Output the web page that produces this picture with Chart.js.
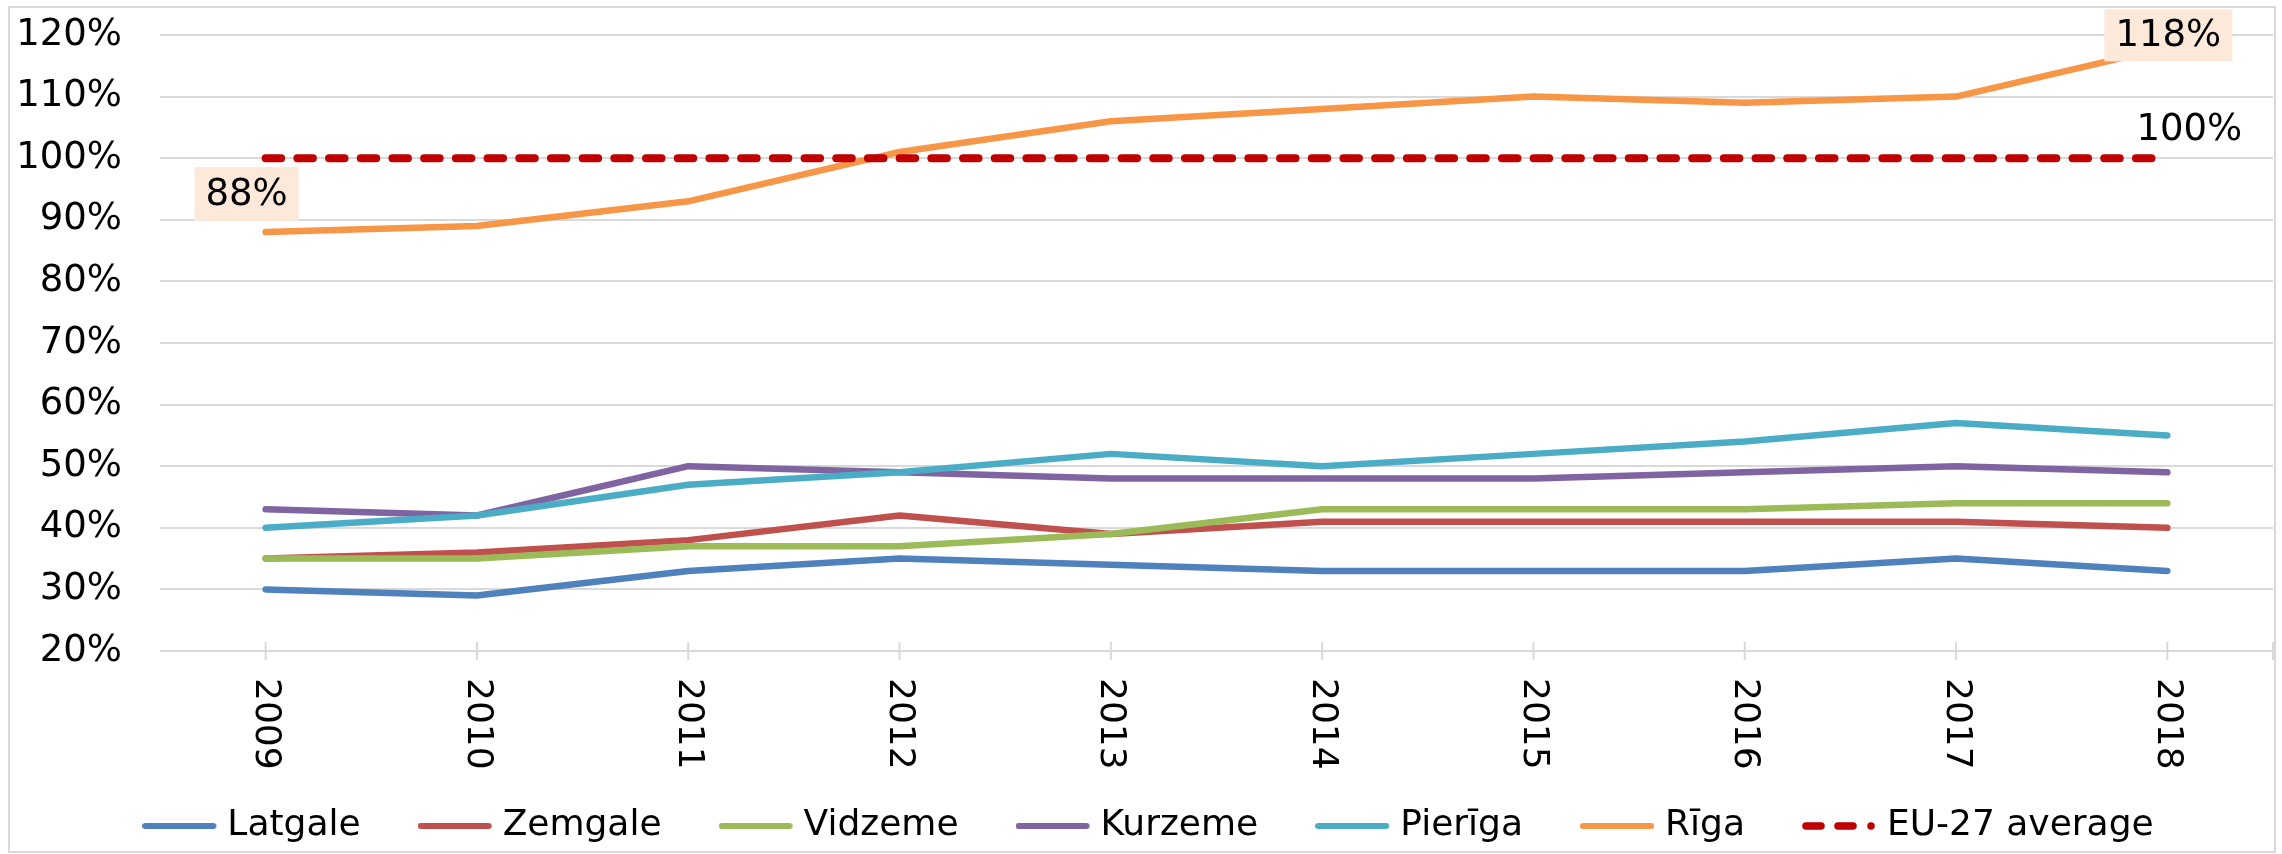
<!DOCTYPE html>
<html>
<head>
<meta charset="utf-8">
<script src="https://cdn.jsdelivr.net/npm/chart.js"></script>
<style>
  html, body { margin: 0; padding: 0; background: #fff; }
  canvas { display: block; }
</style>
</head>
<body>
<canvas id="chart" width="2282" height="854"></canvas>
<script>
const years = ['2009', '2010', '2011', '2012', '2013', '2014', '2015', '2016', '2017', '2018'];
const latgale = [30, 29, 33, 35, 34, 33, 33, 33, 35, 33];
const zemgale = [35, 36, 38, 42, 39, 41, 41, 41, 41, 40];
const vidzeme = [35, 35, 37, 37, 39, 43, 43, 43, 44, 44];
const kurzeme = [43, 42, 50, 49, 48, 48, 48, 49, 50, 49];
const pieriga = [40, 42, 47, 49, 52, 50, 52, 54, 57, 55];
const riga = [88, 89, 93, 101, 106, 108, 110, 109, 110, 118];
const euAverage = [100, 100, 100, 100, 100, 100, 100, 100, 100, 100];
const yTickValues = [20, 30, 40, 50, 60, 70, 80, 90, 100, 110, 120];

const FONT = '"DejaVu Sans", Verdana, sans-serif';
const GRID = '#d9d9d9';

// little canvases used as legend samples (line / dashed line)
function legendSample(color, dashed) {
  const c = document.createElement('canvas');
  c.width = 76; c.height = 12;
  const g = c.getContext('2d');
  g.strokeStyle = color;
  g.lineCap = 'round';
  g.beginPath();
  if (dashed) {
    g.lineWidth = 7.5;
    g.moveTo(4, 6); g.lineTo(19, 6);
    g.moveTo(36, 6); g.lineTo(51, 6);
    g.moveTo(69, 6); g.lineTo(69.01, 6);
  } else {
    g.lineWidth = 6;
    g.moveTo(3, 6); g.lineTo(71, 6);
  }
  g.stroke();
  return c;
}

function series(label, data, color, extra) {
  return Object.assign({
    label, data,
    borderColor: color,
    backgroundColor: color,
    borderWidth: 6.5,
    borderCapStyle: 'round',
    borderJoinStyle: 'round',
    pointRadius: 0,
    tension: 0,
    fill: false
  }, extra || {});
}

const datasets = [
  series('Latgale', latgale, '#4F81BD'),
  series('Zemgale', zemgale, '#C0504D'),
  series('Vidzeme', vidzeme, '#9BBB59'),
  series('Kurzeme', kurzeme, '#8064A2'),
  series('Pierīga', pieriga, '#4BACC6'),
  series('Rīga', riga, '#F79646'),
  series('EU-27 average', euAverage, '#C00000', { borderWidth: 8, borderDash: [15.5, 16.2] })
];
// later series drawn on top, as in the original
datasets.forEach((d, i) => { d.order = datasets.length - i; });
const samples = datasets.map((d, i) => legendSample(d.borderColor, i === 6));

const frame = {
  id: 'frame',
  beforeDraw(chart) {
    const ctx = chart.ctx;
    ctx.save();
    ctx.strokeStyle = GRID;
    ctx.lineWidth = 2;
    ctx.strokeRect(9, 7, 2266, 845);
    ctx.restore();
  },
  afterLayout(chart) {
    // nudge the legend a bit to the right, like the original
    chart.legend.left += 16;
    chart.legend.right += 16;
  }
};

const extras = {
  id: 'extras',
  afterDraw(chart) {
    const ctx = chart.ctx;
    const xs = chart.scales.x;
    const area = chart.chartArea;
    ctx.save();
    // tick marks across the x axis
    ctx.strokeStyle = GRID;
    ctx.lineWidth = 2;
    ctx.beginPath();
    years.forEach((y, i) => {
      const x = xs.getPixelForValue(i);
      ctx.moveTo(x, area.bottom - 9); ctx.lineTo(x, area.bottom + 9);
    });
    ctx.moveTo(area.right, area.bottom - 9); ctx.lineTo(area.right, area.bottom + 9);
    ctx.stroke();

    // year labels, rotated clockwise
    ctx.font = '36px ' + FONT;
    ctx.fillStyle = '#000';
    ctx.textAlign = 'left';
    ctx.textBaseline = 'middle';
    years.forEach((y, i) => {
      const x = xs.getPixelForValue(i);
      ctx.save();
      ctx.translate(x, area.bottom + 27);
      ctx.rotate(Math.PI / 2);
      ctx.fillText(y, 0, 0);
      ctx.restore();
    });

    // data labels
    ctx.textAlign = 'center';
    const rigaPts = chart.getDatasetMeta(5).data;
    const euPts = chart.getDatasetMeta(6).data;
    const last = years.length - 1;
    function label(pt, text, dx, dy, w, h) {
      const cx = pt.x + dx, cy = pt.y + dy;
      if (w) {
        ctx.fillStyle = '#FDE9D9';
        ctx.fillRect(cx - w / 2, cy - h / 2, w, h);
      }
      ctx.fillStyle = '#000';
      ctx.font = '37px ' + FONT;
      ctx.fillText(text, cx, cy + 1);
    }
    label(rigaPts[0], riga[0] + '%', -19, -38, 104, 54);
    label(rigaPts[last], riga[last] + '%', 1, -12, 128, 52);
    label(euPts[last], euAverage[last] + '%', 22, -29);
    ctx.restore();
  }
};

new Chart(document.getElementById('chart'), {
  type: 'line',
  data: { labels: years, datasets },
  options: {
    responsive: false,
    animation: false,
    layout: { padding: { top: 35, right: 9, left: 0, bottom: 0 } },
    scales: {
      x: {
        offset: true,
        grid: { display: false },
        border: { display: false },
        ticks: { display: false },
        afterFit(scale) { scale.height = 91; }
      },
      y: {
        min: yTickValues[0],
        max: yTickValues[yTickValues.length - 1],
        afterBuildTicks(scale) { scale.ticks = yTickValues.map(v => ({ value: v })); },
        afterFit(scale) { scale.width = 160; },
        // invisible tick marks keep the labels away from the plot
        grid: { color: GRID, lineWidth: 2, drawTicks: true, tickLength: 38, tickColor: 'rgba(0,0,0,0)' },
        border: { display: false },
        ticks: {
          padding: 0,
          color: '#000',
          font: { family: FONT, size: 37 },
          callback: v => v + '%'
        }
      }
    },
    plugins: {
      tooltip: { enabled: false },
      legend: {
        position: 'bottom',
        labels: {
          usePointStyle: true,
          pointStyleWidth: 58,
          padding: 66,
          color: '#000',
          font: { family: FONT, size: 36 },
          sort: (a, b) => a.datasetIndex - b.datasetIndex,
          generateLabels(chart) {
            const items = Chart.defaults.plugins.legend.labels.generateLabels(chart);
            items.forEach(it => { it.pointStyle = samples[it.datasetIndex]; });
            return items;
          }
        }
      }
    }
  },
  plugins: [frame, extras]
});
</script>
</body>
</html>
